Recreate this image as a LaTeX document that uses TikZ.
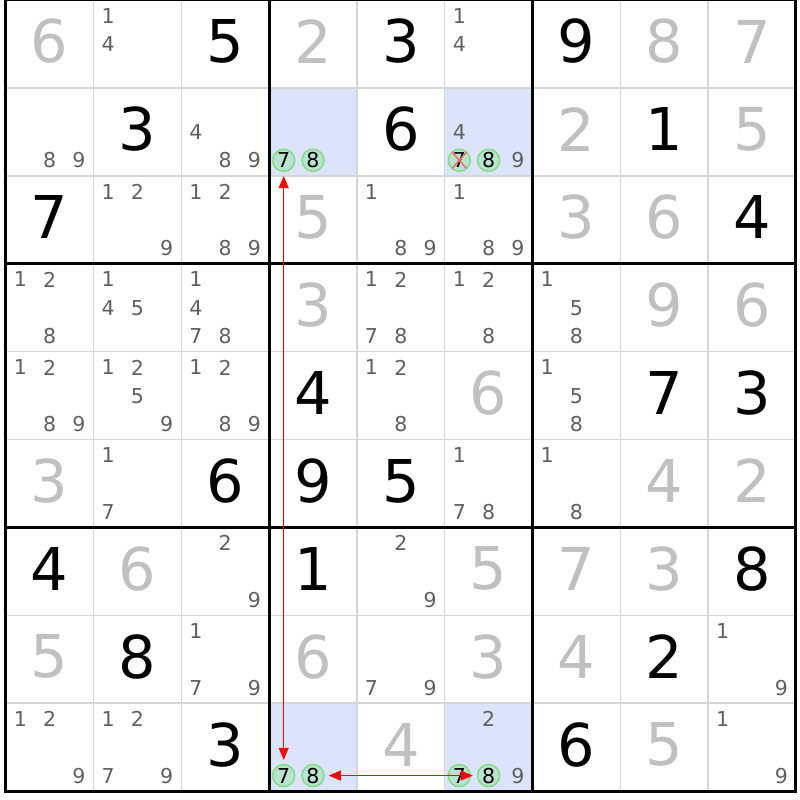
\documentclass[tikz,border=0pt]{standalone}
\usepackage{fontspec}
\setmainfont{DejaVu Sans}
\usetikzlibrary{arrows.meta}
\definecolor{solvedc}{RGB}{192,192,192}
\definecolor{candc}{RGB}{96,96,96}
\definecolor{hlc}{RGB}{220,228,252}
\definecolor{thinc}{RGB}{214,214,214}
\definecolor{circfill}{RGB}{186,228,210}
\definecolor{circdraw}{RGB}{136,220,136}
\definecolor{arrc}{RGB}{255,0,0}
\definecolor{crossc}{RGB}{240,110,110}
\tikzset{
 bigdigit/.style={inner sep=0pt, font=\fontsize{59}{59}\selectfont},
 given/.style={bigdigit, text=black},
 solved/.style={bigdigit, text=solvedc},
 cand/.style={inner sep=0pt, font=\fontsize{20.5}{20.5}\selectfont, text=candc},
 candmark/.style={circle, draw=circdraw, line width=1.6pt, fill=circfill, minimum size=22pt, inner sep=0pt, font=\fontsize{20.5}{20.5}\selectfont, text=black},
 link/.style={draw=arrc, line width=1pt, {Triangle[length=12pt,width=10pt]}-{Triangle[length=12pt,width=10pt]}, shorten <=4pt, shorten >=4pt},
 thinline/.style={draw=thinc, line width=1.5pt},
 thickline/.style={draw=black, line width=3pt},
 crossline/.style={draw=crossc, line width=1.6pt}
}
\begin{document}
\begin{tikzpicture}[x=1pt,y=-1pt]
\fill[white] (0,0) rectangle (800,800);
\useasboundingbox (0,0) rectangle (800,800);
% highlighted cells
\foreach \r/\c in {2/4,2/6,9/4,9/6}{
  \pgfmathsetmacro\lx{5.7+(\c-1)*87.8}
  \pgfmathsetmacro\ty{(\r-1)*87.9}
  \fill[hlc] (\lx,\ty) rectangle ++(87.8,87.9);
}
% thin lines
\foreach \i in {1,2,4,5,7,8}{
  \pgfmathsetmacro\gx{5.7+\i*87.8}
  \pgfmathsetmacro\gy{\i*87.9}
  \draw[thinline] (\gx,0) -- (\gx,791.1);
  \draw[thinline] (5.7,\gy) -- (795.9,\gy);
}
% thick lines
\foreach \i in {0,3,6,9}{
  \pgfmathsetmacro\gx{5.7+\i*87.8}
  \pgfmathsetmacro\gy{\i*87.9}
  \draw[thickline] (\gx,-1.5) -- (\gx,792.6);
  \draw[thickline] (4.2,\gy) -- (797.4,\gy);
}
% given digits
\foreach \r/\c/\d in {1/3/5,1/5/3,1/7/9,2/2/3,2/5/6,2/8/1,3/1/7,3/9/4,5/4/4,5/8/7,5/9/3,6/3/6,6/4/9,6/5/5,7/1/4,7/4/1,7/9/8,8/2/8,8/8/2,9/3/3,9/7/6}{
  \pgfmathsetmacro\px{5.7+(\c-0.5)*87.8}
  \pgfmathsetmacro\py{(\r-1)*87.9+41.5}
  \node[given] (g\r\c) at (\px,\py) {\d};
}
% solved digits
\foreach \r/\c/\d in {1/1/6,1/4/2,1/8/8,1/9/7,2/7/2,2/9/5,3/4/5,3/7/3,3/8/6,4/4/3,4/8/9,4/9/6,5/6/6,6/1/3,6/8/4,6/9/2,7/2/6,7/6/5,7/7/7,7/8/3,8/1/5,8/4/6,8/6/3,8/7/4,9/5/4,9/8/5}{
  \pgfmathsetmacro\px{5.7+(\c-0.5)*87.8}
  \pgfmathsetmacro\py{(\r-1)*87.9+41.5}
  \node[solved] (s\r\c) at (\px,\py) {\d};
}
% candidates
\foreach \r/\c/\ds in {1/2/{1,4},1/6/{1,4},2/1/{8,9},2/3/{4,8,9},2/6/{4,9},
  3/2/{1,2,9},3/3/{1,2,8,9},3/5/{1,8,9},3/6/{1,8,9},
  4/1/{1,2,8},4/2/{1,4,5},4/3/{1,4,7,8},4/5/{1,2,7,8},4/6/{1,2,8},4/7/{1,5,8},
  5/1/{1,2,8,9},5/2/{1,2,5,9},5/3/{1,2,8,9},5/5/{1,2,8},5/7/{1,5,8},
  6/2/{1,7},6/6/{1,7,8},6/7/{1,8},
  7/3/{2,9},7/5/{2,9},
  8/3/{1,7,9},8/5/{7,9},8/9/{1,9},
  9/1/{1,2,9},9/2/{1,2,7,9},9/6/{2,9},9/9/{1,9}}{
  \foreach \d in \ds {
    \pgfmathsetmacro\px{5.7+(\c-1)*87.8+14.6+mod(\d-1,3)*29.3}
    \pgfmathsetmacro\py{(\r-1)*87.9+15.8+floor((\d-1)/3)*28.3}
    \node[cand] (c\r\c\d) at (\px,\py) {\d};
  }
}
% marked candidates
\foreach \r/\c/\d in {2/4/7,2/4/8,2/6/7,2/6/8,9/4/7,9/4/8,9/6/7,9/6/8}{
  \pgfmathsetmacro\px{5.7+(\c-1)*87.8+14.6+mod(\d-1,3)*29.3}
  \pgfmathsetmacro\py{(\r-1)*87.9+15.8+floor((\d-1)/3)*28.3}
  \node[candmark] (m\r\c\d) at (\px,\py) {\d};
}
% eliminated candidate
\draw[crossline] ([shift={(-7,-8)}]m267.center) -- ([shift={(7,8)}]m267.center);
\draw[crossline] ([shift={(7,-8)}]m267.center) -- ([shift={(-7,8)}]m267.center);
% links
\draw[link] (m247) -- (m947);
\draw[link] (m948) -- (m968);
\end{tikzpicture}
\end{document}
